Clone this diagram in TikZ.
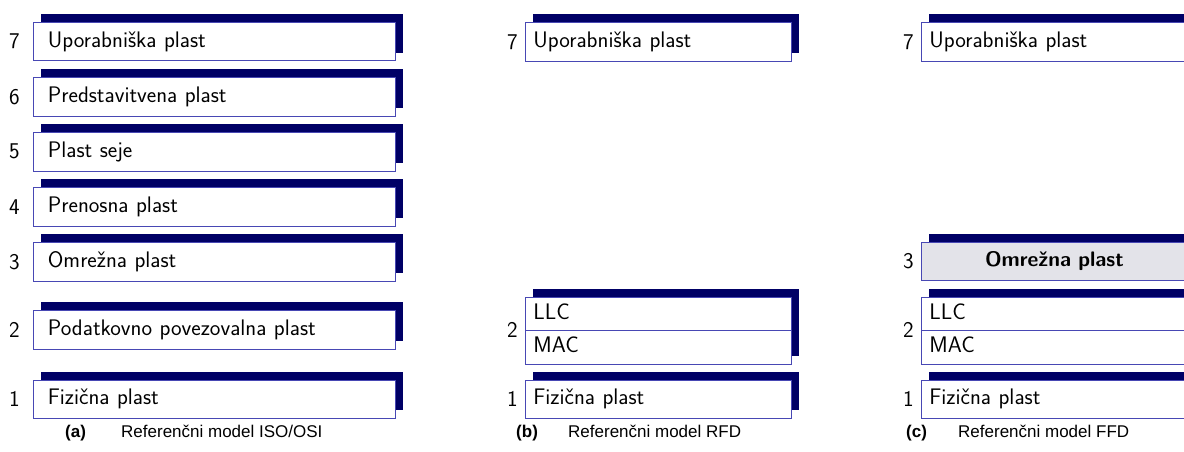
\documentclass[tikz,border=0pt]{standalone}
\usepackage{fontspec}
\newfontfamily\capfont{Liberation Sans}
\usetikzlibrary{shadows}
\definecolor{navy}{RGB}{0,0,102}
\definecolor{edge}{RGB}{72,72,180}
\definecolor{grayfill}{RGB}{227,227,233}
\begin{document}
\begin{tikzpicture}[x=1pt,y=1pt,
  boxfont/.style={font=\sffamily\fontsize{22.5}{26}\selectfont},
  shadowed/.style={general shadow={fill=navy, shadow xshift=8pt, shadow yshift=8pt}},
  layerbox/.style={boxfont, draw=edge, line width=0.8pt, fill=white, anchor=north west,
    inner ysep=0pt, text height=15.5pt, text depth=4.5pt, align=left},
  wideA/.style={layerbox, inner xsep=15pt, text width=332.5pt, minimum height=#1},
  narrow/.style={layerbox, inner xsep=8pt, text width=250pt, minimum height=#1},
  numlabel/.style={boxfont, anchor=east, inner sep=0pt},
  capl/.style={font=\capfont\bfseries\fontsize{17}{20}\selectfont, anchor=base west, inner sep=0pt},
  capt/.style={font=\capfont\fontsize{17}{20}\selectfont, anchor=base west, inner sep=0pt}]
\useasboundingbox (0,0) rectangle (1184,-452);

% ---------- panel (a) ----------
\node[wideA=38.5pt, shadowed] (a7) at (32.5,-22) {Uporabniška plast};
\node[wideA=38.5pt, shadowed] (a6) at (32.5,-77) {Predstavitvena plast};
\node[wideA=38.5pt, shadowed] (a5) at (32.5,-132) {Plast seje};
\node[wideA=38.5pt, shadowed] (a4) at (32.5,-187) {Prenosna plast};
\node[wideA=38.5pt, shadowed] (a3) at (32.5,-242) {Omrežna plast};
\node[wideA=39pt, shadowed] (a2) at (32.5,-310) {Podatkovno povezovalna plast};
\node[wideA=38.5pt, shadowed] (a1) at (32.5,-379.5) {Fizična plast};
\foreach \n in {7,6,5,4,3,2,1}
  \node[numlabel] (la\n) at ([xshift=-12.5pt]a\n.west) {\n};
\node[capl] (capa) at (65,-437) {(a)};
\node[capt] (capat) at (121,-437) {Referenčni model ISO/OSI};

% ---------- panel (b) ----------
\node[narrow=39pt, shadowed] (b7) at (525,-22) {Uporabniška plast};
\node[narrow=67pt, shadowed] (b2) at (525,-296.5) {};
\node[narrow=33.5pt] (b2u) at (525,-296.5) {LLC};
\node[narrow=33.5pt] (b2l) at (525,-330) {MAC};
\node[narrow=38.5pt, shadowed] (b1) at (525,-379.5) {Fizična plast};
\node[numlabel] (lb7) at ([xshift=-7pt]b7.west) {7};
\node[numlabel] (lb2) at ([xshift=-7pt]b2.west) {2};
\node[numlabel] (lb1) at ([xshift=-7pt]b1.west) {1};
\node[capl] (capb) at (516,-437) {(b)};
\node[capt] (capbt) at (568,-437) {Referenčni model RFD};

% ---------- panel (c) ----------
\node[narrow=39pt, shadowed] (c7) at (921,-22) {Uporabniška plast};
\node[narrow=38pt, shadowed, fill=grayfill, align=center, font=\sffamily\bfseries\fontsize{21}{25}\selectfont] (c3) at (921,-242) {Omrežna plast};
\node[narrow=67pt, shadowed] (c2) at (921,-296.5) {};
\node[narrow=33.5pt] (c2u) at (921,-296.5) {LLC};
\node[narrow=33.5pt] (c2l) at (921,-330) {MAC};
\node[narrow=38.5pt, shadowed] (c1) at (921,-379.5) {Fizična plast};
\node[numlabel] (lc7) at ([xshift=-7pt]c7.west) {7};
\node[numlabel] (lc3) at ([xshift=-7pt]c3.west) {3};
\node[numlabel] (lc2) at ([xshift=-7pt]c2.west) {2};
\node[numlabel] (lc1) at ([xshift=-7pt]c1.west) {1};
\node[capl] (capc) at (906,-437) {(c)};
\node[capt] (capct) at (958,-437) {Referenčni model FFD};
\end{tikzpicture}
\end{document}
